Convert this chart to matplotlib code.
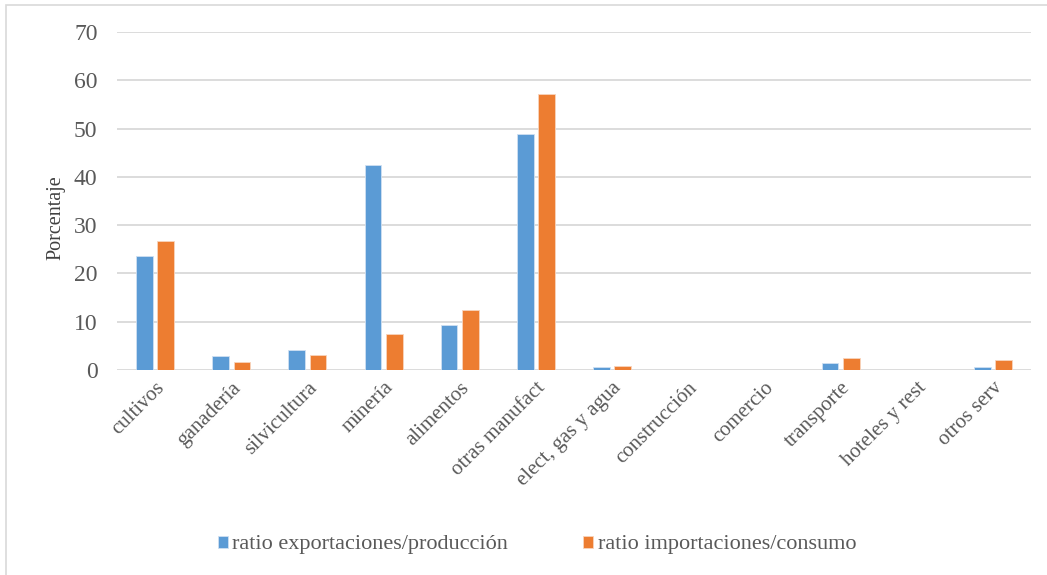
import matplotlib.pyplot as plt
import numpy as np
from matplotlib.patches import Rectangle

sectores = ["cultivos", "ganadería", "silvicultura", "minería", "alimentos",
            "otras manufact", "elect, gas y agua", "construcción", "comercio",
            "transporte", "hoteles y rest", "otros serv"]
ratio_export = [23.6, 2.9, 4.1, 42.5, 9.3, 48.8, 0.6, 0.0, 0.0, 1.4, 0.0, 0.6]
ratio_import = [26.8, 1.7, 3.1, 7.4, 12.4, 57.2, 0.9, 0.0, 0.0, 2.5, 0.0, 2.0]

plt.rcParams['font.family'] = ['Liberation Serif', 'DejaVu Serif']

fig = plt.figure(figsize=(10.47, 5.75), dpi=100)
W, H = 1047, 575
ax = fig.add_axes([117 / W, 1 - 370 / H, (1031 - 117) / W, (370 - 32) / H])

x = np.arange(len(sectores))
w = 0.22
ax.bar(x - 0.14, ratio_export, w, color='#5b9bd5', edgecolor='#cfe0f2', linewidth=0.6,
       label='ratio exportaciones/producción', zorder=3)
ax.bar(x + 0.14, ratio_import, w, color='#ed7d31', edgecolor='#f8d4bd', linewidth=0.6,
       label='ratio importaciones/consumo', zorder=3)

ax.set_xlim(-0.5, len(sectores) - 0.5)
ax.set_ylim(0, 70)
ax.set_yticks(range(0, 71, 10))
ax.yaxis.grid(True, color='#d9d9d9', linewidth=1.3, zorder=0)
for s in ax.spines.values():
    s.set_visible(False)
ax.tick_params(axis='both', length=0, colors='#595959')
ax.tick_params(axis='y', pad=14, labelsize=17)
ax.tick_params(axis='x', pad=6, labelsize=15)
ax.set_xticks(x)
ax.set_xticklabels(sectores, rotation=45, ha='right', rotation_mode='anchor', color='#595959')
ax.set_ylabel("Porcentaje", fontsize=14.5, color='#404040')
ax.yaxis.set_label_coords(-0.056, 0.45)

fig.legend(loc='center', bbox_to_anchor=(537 / W, 1 - 545 / H), ncol=2, frameon=False,
           fontsize=16, handlelength=0.45, handleheight=0.45, handletextpad=0.2,
           columnspacing=3.4, labelcolor='#595959')

fig.patches.append(Rectangle((6 / W, -0.01), 1.02, 1 - 5 / H + 0.01, transform=fig.transFigure,
                             fill=False, edgecolor='#d9d9d9', linewidth=1.2))

fig.savefig("out.png", dpi=100)
